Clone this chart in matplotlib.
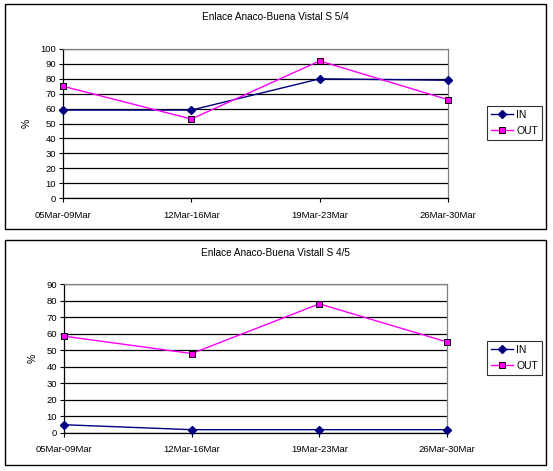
import numpy as np
import matplotlib.pyplot as plt
from matplotlib.patches import Rectangle

plt.rcParams["font.family"] = ["Liberation Sans", "DejaVu Sans"]

# data
weeks = ["05Mar-09Mar", "12Mar-16Mar", "19Mar-23Mar", "26Mar-30Mar"]
titles = ["Enlace Anaco-Buena Vistal S 5/4", "Enlace Anaco-Buena Vistall S 4/5"]
in_top = [59, 59, 80, 79]
out_top = [75, 53, 92, 66]
in_bot = [5, 2, 2, 2]
out_bot = [58.5, 48, 78, 55]
ymax = [100, 90]

W, H = 553, 471
fig = plt.figure(figsize=(W / 100, H / 100), dpi=100, facecolor="white")


def px(x0, y0, x1, y1):
    # pixel box -> figure fraction [l, b, w, h]
    return [x0 / W, 1 - y1 / H, (x1 - x0) / W, (y1 - y0) / H]


def draw_chart(box, plot, leg_y, title, vin, vout, top):
    # outer frame
    fig.patches.append(Rectangle((box[0] / W, 1 - box[3] / H),
                                 (box[2] - box[0]) / W, (box[3] - box[1]) / H,
                                 transform=fig.transFigure, fill=False,
                                 edgecolor="black", linewidth=1.0))
    fig.text((box[0] + box[2]) / 2 / W, 1 - (box[1] + 13) / H, title,
             ha="center", va="center", fontsize=7.2)

    ax = fig.add_axes(px(*plot))
    x = np.arange(len(weeks))
    ax.plot(x, vin, color="#000080", linewidth=1.0, marker="D", markersize=4,
            markerfacecolor="#000080", markeredgecolor="#000080", label="IN",
            clip_on=False, zorder=3)
    ax.plot(x, vout, color="#FF00FF", linewidth=1.0, marker="s", markersize=5,
            markerfacecolor="#FF00FF", markeredgecolor="black",
            markeredgewidth=0.7, label="OUT", clip_on=False, zorder=3)

    ax.set_xlim(0, len(weeks) - 1)
    ax.set_ylim(0, top)
    ax.set_yticks(np.arange(0, top + 1, 10))
    ax.set_xticks(x)
    ax.set_xticklabels(weeks, fontsize=6.8)
    ax.tick_params(axis="y", labelsize=6.8, length=3, width=0.8, pad=2)
    ax.tick_params(axis="x", length=3, width=0.8, pad=6)
    ax.grid(axis="y", color="black", linewidth=0.9)
    ax.set_axisbelow(True)
    for s in ["top", "right"]:
        ax.spines[s].set_color("#808080")
        ax.spines[s].set_linewidth(0.9)
    for s in ["left", "bottom"]:
        ax.spines[s].set_color("black")
        ax.spines[s].set_linewidth(0.9)
    ax.set_ylabel("%", fontsize=7.5, labelpad=6)

    leg = ax.legend(loc="center left",
                    bbox_to_anchor=((487 - plot[0]) / (plot[2] - plot[0]),
                                    1 - (leg_y - plot[1]) / (plot[3] - plot[1])),
                    frameon=True, fancybox=False, fontsize=7.5,
                    handlelength=2.1, handletextpad=0.3, borderpad=0.4,
                    labelspacing=0.6, borderaxespad=0)
    leg.get_frame().set_edgecolor("black")
    leg.get_frame().set_linewidth(0.8)
    return ax


draw_chart((5, 4, 546, 229), (63, 49, 448, 198), 123, titles[0],
           in_top, out_top, ymax[0])
draw_chart((5, 240, 546, 465), (64, 284, 447, 433), 358, titles[1],
           in_bot, out_bot, ymax[1])

fig.savefig("out.png", dpi=100, facecolor="white")
